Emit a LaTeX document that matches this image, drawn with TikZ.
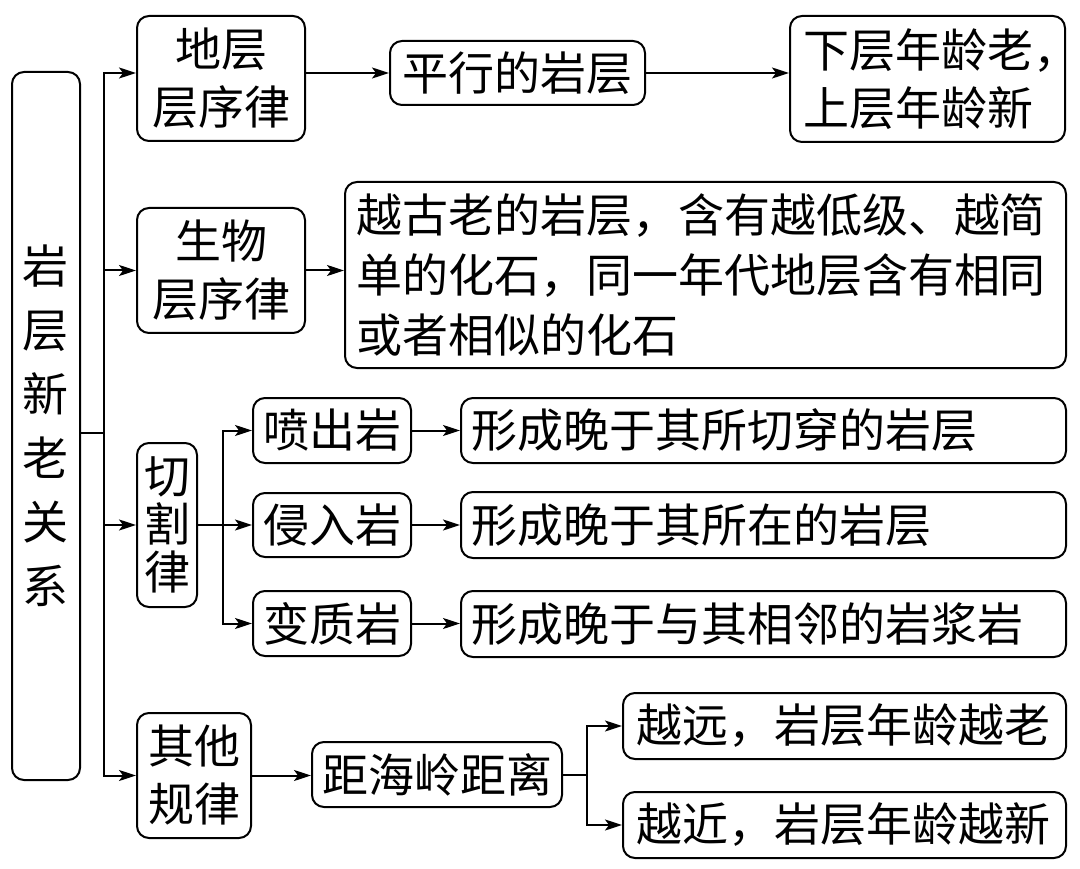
\documentclass[tikz,border=0pt]{standalone}
\usepackage{fontspec}
\newfontfamily\cjk{Noto Sans CJK SC}
\usetikzlibrary{arrows.meta}
\begin{document}
\begin{tikzpicture}[x=1pt,y=-1pt,
  every path/.style={line width=2pt},
  box/.style={draw, line width=2pt, rounded corners=12pt, inner sep=0pt,
    font=\cjk\fontsize{46}{58}\selectfont, align=center},
  lbox/.style={box, align=left, inner ysep=0pt},
  ln/.style={draw, line width=2pt, line cap=rect},
  arr/.style={draw, line width=2pt, -{Stealth[length=17pt,width=11pt,inset=4pt]}}]
\useasboundingbox (0,0) rectangle (1080,869);
\fill[white] (0,0) rectangle (1080,869);

% left column
\node[box, minimum width=68pt, minimum height=708pt, font=\cjk\fontsize{46}{64}\selectfont] (L) at (46,426) {岩\\层\\新\\老\\关\\系};

% row 1
\node[box, minimum width=168pt, minimum height=125pt] (A1) at (221,78.5) {地层\\层序律};
\node[box, minimum width=255pt, minimum height=64pt] (B1) at (517.5,73) {平行的岩层};
\node[lbox, minimum height=126pt, text width=249pt, inner xsep=13pt] (C1) at (927.5,79) {下层年龄老，\\上层年龄新};

% row 2
\node[box, minimum width=168pt, minimum height=125pt] (A2) at (221,270.5) {生物\\层序律};
\node[lbox, minimum height=186pt, text width=699pt, inner xsep=11pt, font=\cjk\fontsize{46}{60}\selectfont] (D) at (705.5,275) {越古老的岩层，含有越低级、越简\\单的化石，同一年代地层含有相同\\或者相似的化石};

% row 3
\node[box, minimum width=60pt, minimum height=164pt, font=\cjk\fontsize{46}{48}\selectfont] (A3) at (167,525) {切\\割\\律};
\node[box, minimum width=158pt, minimum height=65pt] (E1) at (332,430.5) {喷出岩};
\node[box, minimum width=158pt, minimum height=64pt] (E2) at (332,525) {侵入岩};
\node[box, minimum width=158pt, minimum height=65pt] (E3) at (332,623.5) {变质岩};
\node[lbox, minimum height=65pt, text width=585pt, inner xsep=10pt] (F1) at (763.5,430.5) {形成晚于其所切穿的岩层};
\node[lbox, minimum height=66pt, text width=585pt, inner xsep=10pt] (F2) at (763.5,525) {形成晚于其所在的岩层};
\node[lbox, minimum height=66pt, text width=585pt, inner xsep=10pt] (F3) at (763.5,624) {形成晚于与其相邻的岩浆岩};

% row 4
\node[box, minimum width=114pt, minimum height=125pt] (A4) at (194,775.5) {其他\\规律};
\node[box, minimum width=250pt, minimum height=65pt] (G) at (437,774.5) {距海岭距离};
\node[lbox, minimum height=66pt, text width=417pt, inner xsep=13pt] (H1) at (844.5,726) {越远，岩层年龄越老};
\node[lbox, minimum height=66pt, text width=417pt, inner xsep=13pt] (H2) at (844.5,825) {越近，岩层年龄越新};

% trunk
\coordinate (tA) at (104,73);
\coordinate (tD) at (104,775.5);
\coordinate (j) at (104,433);
\draw[ln] (tA) -- (tD);
\draw[ln] (L.east |- j) -- (j);
\draw[arr] (tA) -- (tA -| A1.west);
\draw[arr] (A2.west -| tA) -- (A2.west);
\draw[arr] (A3.west -| tA) -- (A3.west);
\draw[arr] (tD) -- (A4.west);

% row connectors
\draw[arr] (A1.east |- B1) -- (B1.west);
\draw[arr] (B1.east) -- (B1.east -| C1.west);
\draw[arr] (A2.east) -- (A2.east -| D.west);

% cut-law branch
\coordinate (b3) at (223,525);
\draw[ln] (A3.east) -- (b3);
\draw[ln] (b3 |- E1) -- (b3 |- E3);
\draw[arr] (b3 |- E1) -- (E1.west);
\draw[arr] (b3) -- (E2.west);
\draw[arr] (b3 |- E3) -- (E3.west);
\draw[arr] (E1.east) -- (F1.west);
\draw[arr] (E2.east) -- (F2.west);
\draw[arr] (E3.east) -- (E3.east -| F3.west);

% other rules branch
\draw[arr] (A4.east) -- (A4.east -| G.west);
\coordinate (bg) at (587,774.5);
\draw[ln] (G.east) -- (bg);
\draw[ln] (bg |- H1) -- (bg |- H2);
\draw[arr] (bg |- H1) -- (H1.west);
\draw[arr] (bg |- H2) -- (H2.west);
\end{tikzpicture}
\end{document}
